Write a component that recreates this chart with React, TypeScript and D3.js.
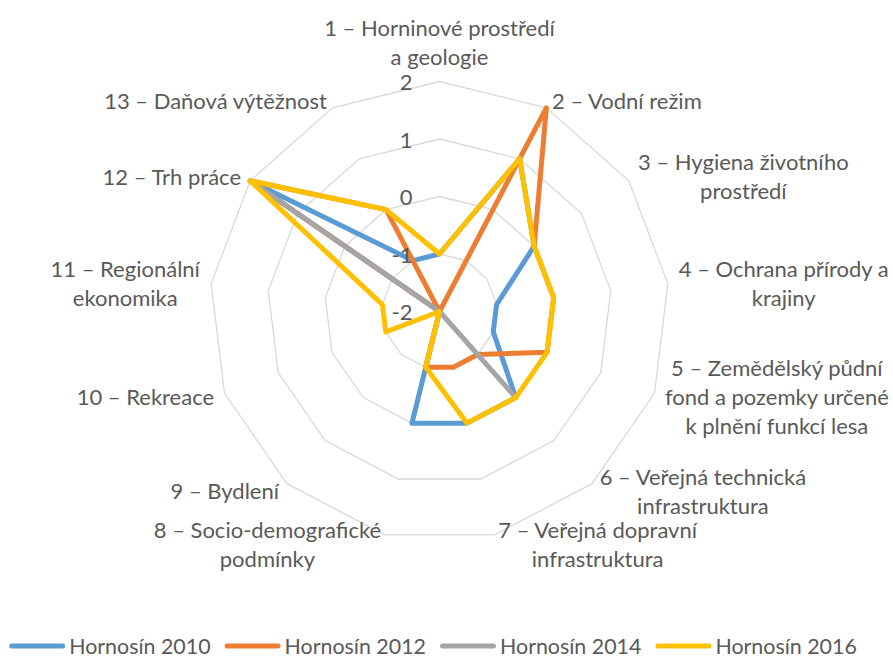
import { useEffect, useRef } from 'react'
import * as d3 from 'd3'

const WIDTH = 893
const HEIGHT = 659
const FONT = 'Lato, "Open Sans", sans-serif'
const FONT_SIZE = 22
const LEGEND_FONT_SIZE = 21.4
const LINE_H = 29
const TEXT_COLOR = '#595959'
const GRID_COLOR = '#d9d9d9'

// category labels, split into lines as in the original
const categories: string[][] = [
  ['1 – Horninové prostředí', 'a geologie'],
  ['2 – Vodní režim'],
  ['3 – Hygiena životního', 'prostředí'],
  ['4 – Ochrana přírody a', 'krajiny'],
  ['5 – Zemědělský půdní', 'fond a pozemky určené', 'k plnění funkcí lesa'],
  ['6 – Veřejná technická', 'infrastruktura'],
  ['7 – Veřejná dopravní', 'infrastruktura'],
  ['8 – Socio-demografické', 'podmínky'],
  ['9 – Bydlení'],
  ['10 – Rekreace'],
  ['11 – Regionální', 'ekonomika'],
  ['12 – Trh práce'],
  ['13 – Daňová výtěžnost'],
]

const ticks = [-2, -1, 0, 1, 2]

const hornosin2010 = [-1, 1, 0, -1, -1, 0, 0, 0, -2, -2, -2, 2, -1]
const hornosin2012 = [-2, 2, 0, 0, 0, -1, -1, -1, -2, -2, -2, 2, 0]
const hornosin2014 = [-2, -2, -2, -2, -2, 0, -2, -2, -2, -2, -2, 2, -2]
const hornosin2016 = [-1, 1, 0, 0, 0, 0, 0, -1, -2, -1, -1, 2, 0]

const seriesNames = ['Hornosín 2010', 'Hornosín 2012', 'Hornosín 2014', 'Hornosín 2016']
const seriesValues = [hornosin2010, hornosin2012, hornosin2014, hornosin2016]
const seriesColors = ['#5b9bd5', '#ed7d31', '#a5a5a5', '#ffc000']

export default function App() {
  const svgRef = useRef<SVGSVGElement>(null)

  useEffect(() => {
    const el = svgRef.current
    if (!el) return
    const svg = d3.select(el)
    svg.selectAll('*').remove()

    const cx = 439.5
    const cy = 311.5
    const radius = 230

    const r = d3
      .scaleLinear()
      .domain([ticks[0], ticks[ticks.length - 1]])
      .range([0, radius])
    const angle = d3
      .scaleLinear()
      .domain([0, categories.length])
      .range([0, 2 * Math.PI])

    const g = svg.append('g').attr('transform', `translate(${cx},${cy})`)

    // grid rings (no spokes)
    ticks.slice(1).forEach((t) => {
      const ring = d3
        .lineRadial<string[]>()
        .angle((_, i) => angle(i))
        .radius(r(t))
        .curve(d3.curveLinearClosed)
      g.append('path')
        .attr('d', ring(categories))
        .attr('fill', 'none')
        .attr('stroke', GRID_COLOR)
        .attr('stroke-width', 1.3)
    })

    const line = d3
      .lineRadial<number>()
      .angle((_, i) => angle(i))
      .radius((d) => r(d))
      .curve(d3.curveLinearClosed)

    seriesValues.forEach((vals, k) => {
      g.append('path')
        .attr('d', line(vals))
        .attr('fill', 'none')
        .attr('stroke', seriesColors[k])
        .attr('stroke-width', 5)
        .attr('stroke-linejoin', 'round')
    })

    // value axis labels
    g.selectAll('text.tick')
      .data(ticks)
      .join('text')
      .attr('class', 'tick')
      .attr('x', -27)
      .attr('y', (d) => -r(d))
      .attr('text-anchor', 'end')
      .attr('dominant-baseline', 'central')
      .attr('font-family', FONT)
      .attr('font-size', FONT_SIZE)
      .attr('fill', TEXT_COLOR)
      .text((d) => d)

    // category labels
    categories.forEach((lines, i) => {
      const a = angle(i)
      const s = Math.sin(a)
      const c = Math.cos(a)
      const vx = s * radius
      const vy = -c * radius
      const lg = g.append('g')
      const txt = lg
        .append('text')
        .attr('text-anchor', 'middle')
        .attr('dominant-baseline', 'central')
        .attr('font-family', FONT)
        .attr('font-size', FONT_SIZE)
        .attr('fill', TEXT_COLOR)
      lines.forEach((l, j) => {
        txt.append('tspan').attr('x', 0).attr('y', j * LINE_H).text(l)
      })
      const w = (txt.node() as SVGTextElement).getBBox().width
      const h = lines.length * LINE_H
      let x: number
      let yc: number
      if (Math.abs(s) < 0.1) {
        x = vx
        yc = vy - 11 - h / 2
      } else {
        x = vx + Math.sign(s) * (10 * Math.abs(s) + 1 + w / 2)
        yc = vy - 9 * c
      }
      lg.attr('transform', `translate(${x},${yc - h / 2 + LINE_H / 2})`)
    })

    // legend
    const legendY = 646
    const lineLen = 51
    const cap = 2.5
    const itemGap = 14
    const lgd = svg.append('g')
    const widths: number[] = []
    const items = seriesNames.map((name, k) => {
      const item = lgd.append('g')
      item
        .append('line')
        .attr('x1', cap)
        .attr('x2', cap + lineLen)
        .attr('y1', 0)
        .attr('y2', 0)
        .attr('stroke', seriesColors[k])
        .attr('stroke-width', 5)
        .attr('stroke-linecap', 'round')
      const t = item
        .append('text')
        .attr('x', lineLen + 2 * cap + 4)
        .attr('dominant-baseline', 'central')
        .attr('font-family', FONT)
        .attr('font-size', LEGEND_FONT_SIZE)
        .attr('fill', TEXT_COLOR)
        .text(name)
      widths.push((t.node() as SVGTextElement).getComputedTextLength())
      return item
    })
    const itemW = widths.map((w) => lineLen + 2 * cap + 4 + w)
    const total = d3.sum(itemW) + itemGap * (itemW.length - 1)
    let x0 = 433 - total / 2
    items.forEach((item, k) => {
      item.attr('transform', `translate(${x0},${legendY})`)
      x0 += itemW[k] + itemGap
    })
  }, [])

  return (
    <svg
      ref={svgRef}
      width={WIDTH}
      height={HEIGHT}
      style={{ position: 'absolute', left: 0, top: 0, background: '#fff' }}
    />
  )
}
